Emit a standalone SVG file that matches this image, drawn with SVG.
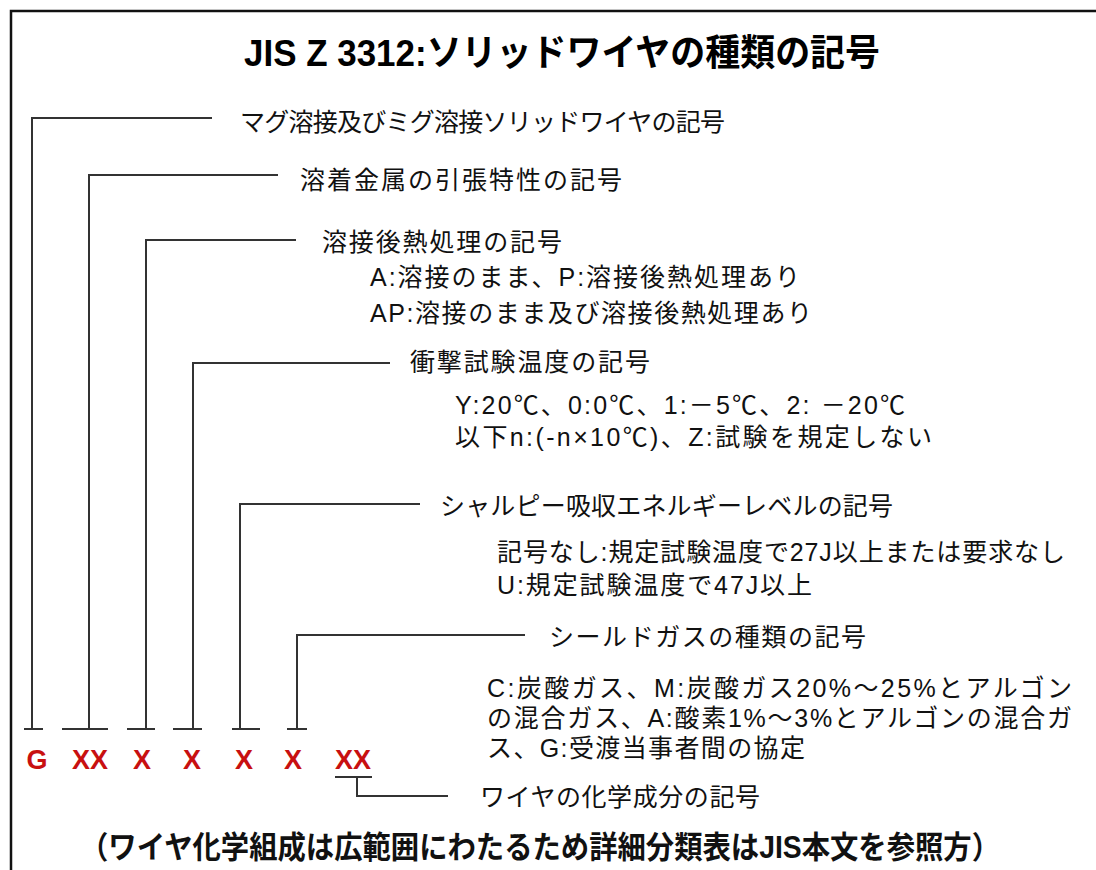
<svg xmlns="http://www.w3.org/2000/svg" width="1096" height="870" viewBox="0 0 1096 870">
<style>
.t{font-family:"Liberation Sans","Noto Sans CJK JP",sans-serif;font-size:25px;fill:#111}
.ttl{font-family:"Liberation Sans","Noto Sans CJK JP",sans-serif;font-size:37px;font-weight:bold;fill:#000}
.ft{font-family:"Liberation Sans","Noto Sans CJK JP",sans-serif;font-size:31px;font-weight:bold;fill:#111}
.code{font-family:"Liberation Sans","Noto Sans CJK JP",sans-serif;font-size:27px;font-weight:bold;fill:#c81010;text-anchor:middle}
.ln{fill:none;stroke:#333;stroke-width:2}
</style>
<rect width="1096" height="870" fill="#fff"/>
<path d="M11,870 V11 H1096" fill="none" stroke="#111" stroke-width="2.5"/>
<text class="ttl" x="244" y="66" textLength="636" lengthAdjust="spacingAndGlyphs">JIS Z 3312:ソリッドワイヤの種類の記号</text>

<g id="connectors">
<path class="ln" d="M32,729 V118 H212"/>
<path class="ln" d="M24,729 H43"/>
<path class="ln" d="M89,729 V175 H278"/>
<path class="ln" d="M62,729 H108"/>
<path class="ln" d="M146,729 V240 H296"/>
<path class="ln" d="M127,729 H155"/>
<path class="ln" d="M193,729 V363 H390"/>
<path class="ln" d="M173,729 H202"/>
<path class="ln" d="M240,729 V504 H420"/>
<path class="ln" d="M232,729 H260"/>
<path class="ln" d="M297,729 V635 H525"/>
<path class="ln" d="M287,729 H307"/>
<path class="ln" d="M335,777 H372"/>
<path class="ln" d="M357,777 V796 H448"/>
</g>

<g id="codes">
<text class="code" x="37" y="769">G</text>
<text class="code" x="90" y="769">XX</text>
<text class="code" x="142" y="769">X</text>
<text class="code" x="192" y="769">X</text>
<text class="code" x="244" y="769">X</text>
<text class="code" x="293" y="769">X</text>
<text class="code" x="353" y="769">XX</text>
</g>

<g id="node1"><text class="t" x="240" y="131" textLength="485">マグ溶接及びミグ溶接ソリッドワイヤの記号</text></g>
<g id="node2"><text class="t" x="300" y="189" textLength="322">溶着金属の引張特性の記号</text></g>
<g id="node3">
<text class="t" x="322" y="251" textLength="240">溶接後熱処理の記号</text>
<text class="t" x="370" y="286" textLength="430">A:溶接のまま、P:溶接後熱処理あり</text>
<text class="t" x="370" y="322" textLength="442">AP:溶接のまま及び溶接後熱処理あり</text>
</g>
<g id="node4">
<text class="t" x="410" y="371" textLength="240">衝撃試験温度の記号</text>
<text class="t" x="455" y="414" textLength="450">Y:20℃、0:0℃、1:－5℃、2: －20℃</text>
<text class="t" x="455" y="446" textLength="477">以下n:(-n×10℃)、Z:試験を規定しない</text>
</g>
<g id="node5">
<text class="t" x="440" y="515" textLength="453">シャルピー吸収エネルギーレベルの記号</text>
<text class="t" x="497" y="561" textLength="568">記号なし:規定試験温度で27J以上または要求なし</text>
<text class="t" x="497" y="594" textLength="315">U:規定試験温度で47J以上</text>
</g>
<g id="node6">
<text class="t" x="549" y="646" textLength="317">シールドガスの種類の記号</text>
<text class="t" x="487" y="697" textLength="585">C:炭酸ガス、M:炭酸ガス20%～25%とアルゴン</text>
<text class="t" x="487" y="727" textLength="585">の混合ガス、A:酸素1%～3%とアルゴンの混合ガ</text>
<text class="t" x="487" y="757" textLength="318">ス、G:受渡当事者間の協定</text>
</g>
<g id="node7"><text class="t" x="480" y="806" textLength="280">ワイヤの化学成分の記号</text></g>
<text class="ft" x="80" y="858" textLength="920" lengthAdjust="spacingAndGlyphs">（ワイヤ化学組成は広範囲にわたるため詳細分類表はJIS本文を参照方）</text>
</svg>
